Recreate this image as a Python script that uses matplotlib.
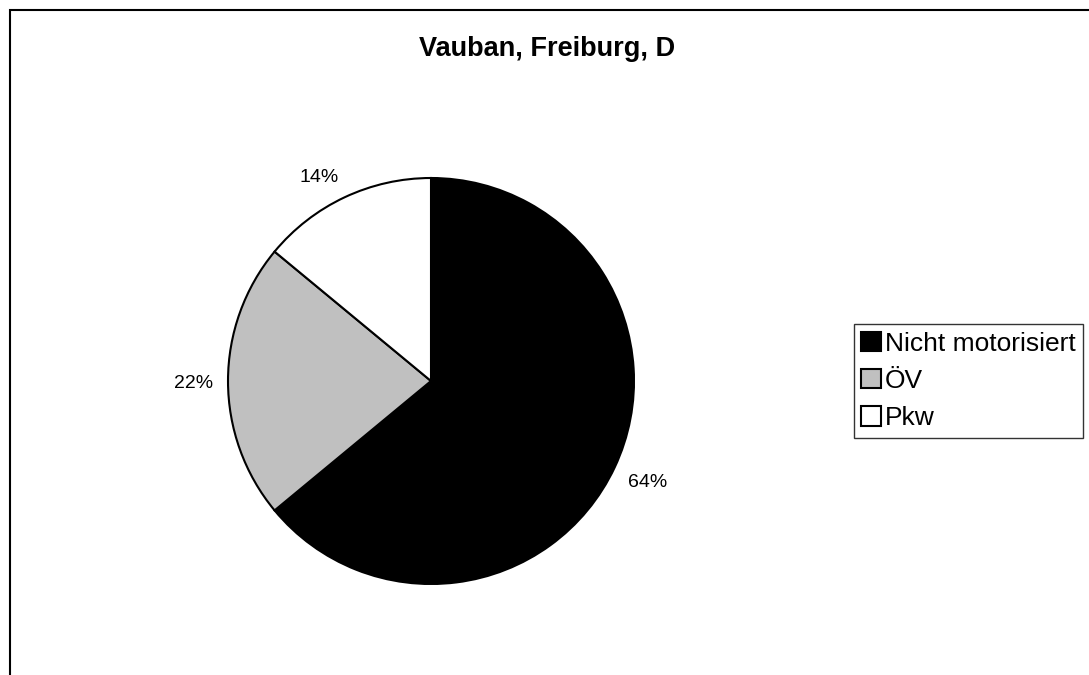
import matplotlib.pyplot as plt
from matplotlib.patches import Rectangle

# Daten
kategorien = ["Nicht motorisiert", "ÖV", "Pkw"]
anteile = [64, 22, 14]
farben = ["#000000", "#c0c0c0", "#ffffff"]
titel = "Vauban, Freiburg, D"

plt.rcParams['font.family'] = ['Liberation Sans', 'DejaVu Sans']

W, H = 1089, 675
fig = plt.figure(figsize=(W / 100, H / 100), dpi=100)

# Rahmen um das Diagramm (rechts und unten abgeschnitten)
fig.patches.append(Rectangle((10 / W, -0.1), 1.2, (H - 10) / H + 0.1,
                             transform=fig.transFigure, fill=False,
                             edgecolor="black", linewidth=1.5))

cx, cy, r = 431, 381, 203
ax = fig.add_axes([(cx - r) / W, (H - cy - r) / H, 2 * r / W, 2 * r / H])
wedges, texte, autotexte = ax.pie(
    anteile, colors=farben, startangle=90, counterclock=False,
    autopct="%d%%", pctdistance=1.18,
    wedgeprops=dict(edgecolor="black", linewidth=1.5),
    textprops=dict(fontsize=14))
# Beschriftung der kleinen Segmente etwas nach aussen/unten wie im Original
autotexte[2].set_position((-0.55, 1.0))
autotexte[1].set_position((-1.17, -0.01))
ax.set_xlim(-1, 1)
ax.set_ylim(-1, 1)
ax.set_aspect("equal")

fig.text(547 / W, 1 - 49 / H, titel, ha="center", va="center",
         fontsize=19.5, fontweight="bold")

fig.legend(wedges, kategorien, loc="center left",
           bbox_to_anchor=(854 / W, 1 - 381 / H), fontsize=19,
           frameon=True, fancybox=False, edgecolor="black",
           handlelength=0.75, handleheight=0.75, handletextpad=0.15,
           labelspacing=0.5, borderpad=0.28, borderaxespad=0)

fig.savefig("out.png", dpi=100)
